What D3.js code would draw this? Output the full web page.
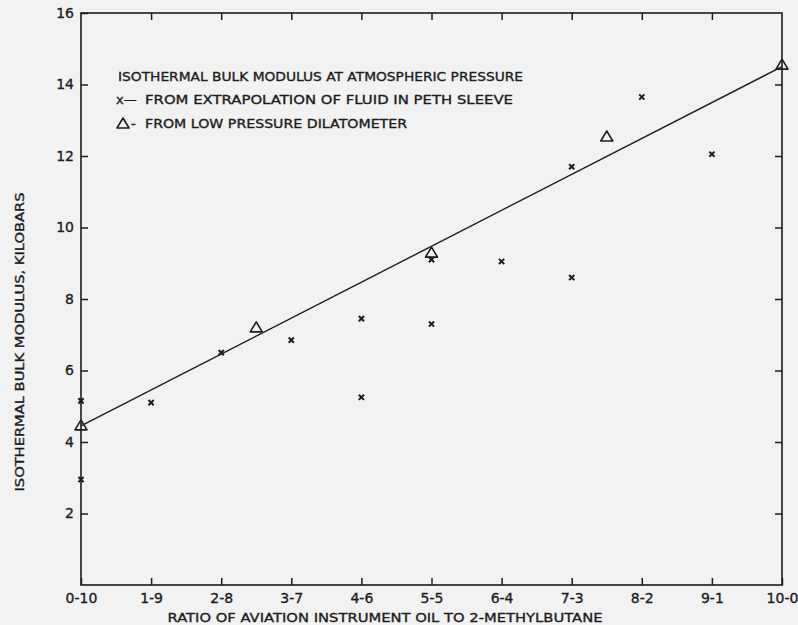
<!DOCTYPE html>
<html>
<head>
<meta charset="utf-8">
<script src="https://cdn.jsdelivr.net/npm/d3@7"></script>
<style>
  html, body { margin: 0; padding: 0; background: #f2f2f2; }
  svg { display: block; }
  text { font-family: "DejaVu Sans", "Liberation Sans", sans-serif; fill: #1c1c1c; stroke: #1c1c1c; stroke-width: 0.35px; }
</style>
</head>
<body>
<svg id="chart" width="798" height="625"></svg>
<script>
// ---- data ----
const categories = ["0-10","1-9","2-8","3-7","4-6","5-5","6-4","7-3","8-2","9-1","10-0"];
const yTickValues = [2, 4, 6, 8, 10, 12, 14, 16];
const extrapX = [0, 0, 1, 2, 3, 4, 4, 5, 5, 6, 7, 7, 8, 9];
const extrapY = [5.15, 2.95, 5.1, 6.5, 6.85, 7.45, 5.25, 9.1, 7.3, 9.05, 11.7, 8.6, 13.65, 12.05];
const dilatX = [0, 2.5, 5, 7.5, 10];
const dilatY = [4.48, 7.22, 9.31, 12.56, 14.57];
const fitX = [0, 10];
const fitY = [4.45, 14.5];
const legendTitle = "ISOTHERMAL BULK MODULUS AT ATMOSPHERIC PRESSURE";
const legendExtrap = "FROM EXTRAPOLATION OF FLUID IN PETH SLEEVE";
const legendDilat = "FROM LOW PRESSURE DILATOMETER";
const xTitle = "RATIO OF AVIATION INSTRUMENT OIL TO 2-METHYLBUTANE";
const yTitle = "ISOTHERMAL BULK MODULUS, KILOBARS";

// ---- layout ----
const ink = "#1c1c1c";
const svg = d3.select("#chart");
const x = d3.scaleLinear().domain([0, 10]).range([81, 782]);
const y = d3.scaleLinear().domain([0, 16]).range([585, 13]);

// frame
svg.append("rect")
  .attr("x", x(0)).attr("y", y(16))
  .attr("width", x(10) - x(0)).attr("height", y(0) - y(16))
  .attr("fill", "none").attr("stroke", ink).attr("stroke-width", 1.6);

function styleAxis(g) {
  g.select(".domain").remove();
  g.selectAll(".tick line").attr("stroke", ink).attr("stroke-width", 1.5);
  g.selectAll(".tick text").attr("fill", ink).style("font-size", "14px");
}

// bottom axis
const xAxisB = d3.axisBottom(x)
  .tickValues(d3.range(categories.length))
  .tickFormat(i => categories[i])
  .tickSizeInner(-7).tickSizeOuter(0).tickPadding(8);
svg.append("g").attr("transform", `translate(0,${y(0)})`).call(xAxisB).call(styleAxis);

// top axis
const xAxisT = d3.axisTop(x)
  .tickValues(d3.range(1, categories.length - 1))
  .tickFormat("").tickSizeInner(-7).tickSizeOuter(0);
svg.append("g").attr("transform", `translate(0,${y(16)})`).call(xAxisT).call(styleAxis);

// left axis
const yAxisL = d3.axisLeft(y)
  .tickValues(yTickValues)
  .tickFormat(d3.format("d"))
  .tickSizeInner(-7).tickSizeOuter(0).tickPadding(7);
svg.append("g").attr("transform", `translate(${x(0)},0)`).call(yAxisL).call(styleAxis);

// right axis
const yAxisR = d3.axisRight(y)
  .tickValues(yTickValues.filter(v => v < 16))
  .tickFormat("").tickSizeInner(-7).tickSizeOuter(0);
svg.append("g").attr("transform", `translate(${x(10)},0)`).call(yAxisR).call(styleAxis);

// axis titles
svg.append("text")
  .attr("x", 385).attr("y", 622)
  .attr("text-anchor", "middle")
  .attr("textLength", 435).attr("lengthAdjust", "spacingAndGlyphs")
  .style("font-size", "13px")
  .text(xTitle);

svg.append("text")
  .attr("transform", "translate(24,342) rotate(-90)")
  .attr("text-anchor", "middle")
  .attr("textLength", 299).attr("lengthAdjust", "spacingAndGlyphs")
  .style("font-size", "13px")
  .text(yTitle);

// fit line
const line = d3.line().x(d => x(d[0])).y(d => y(d[1]));
svg.append("path")
  .datum(fitX.map((v, i) => [v, fitY[i]]))
  .attr("d", line)
  .attr("fill", "none").attr("stroke", ink).attr("stroke-width", 1.4);

// markers
function crossPath(cx, cy, r) {
  return `M${cx - r},${cy - r}L${cx + r},${cy + r}M${cx - r},${cy + r}L${cx + r},${cy - r}`;
}
function triPath(cx, cy) {
  const w = 6, h = 5;
  return `M${cx},${cy - h}L${cx + w},${cy + h}L${cx - w},${cy + h}Z`;
}

svg.append("g").selectAll("path")
  .data(extrapX.map((v, i) => [v, extrapY[i]]))
  .join("path")
  .attr("d", d => crossPath(x(d[0]), y(d[1]), 2.6))
  .attr("stroke", ink).attr("stroke-width", 2).attr("fill", "none");

svg.append("g").selectAll("path")
  .data(dilatX.map((v, i) => [v, dilatY[i]]))
  .join("path")
  .attr("d", d => triPath(x(d[0]), y(d[1])))
  .attr("stroke", ink).attr("stroke-width", 1.6)
  .attr("stroke-linejoin", "round").attr("fill", "none");

// legend
const lg = svg.append("g");
lg.append("text").attr("x", 118).attr("y", 81)
  .attr("textLength", 405).attr("lengthAdjust", "spacingAndGlyphs")
  .style("font-size", "13px").text(legendTitle);

lg.append("text").attr("x", 116).attr("y", 104)
  .style("font-size", "13px").text("x—");
lg.append("text").attr("x", 145).attr("y", 104)
  .attr("textLength", 368).attr("lengthAdjust", "spacingAndGlyphs")
  .style("font-size", "13px").text(legendExtrap);

lg.append("path").attr("d", triPath(123, 123))
  .attr("stroke", ink).attr("stroke-width", 1.6)
  .attr("stroke-linejoin", "round").attr("fill", "none");
lg.append("text").attr("x", 131).attr("y", 128)
  .style("font-size", "13px").text("-");
lg.append("text").attr("x", 145).attr("y", 128)
  .attr("textLength", 262).attr("lengthAdjust", "spacingAndGlyphs")
  .style("font-size", "13px").text(legendDilat);
</script>
</body>
</html>
